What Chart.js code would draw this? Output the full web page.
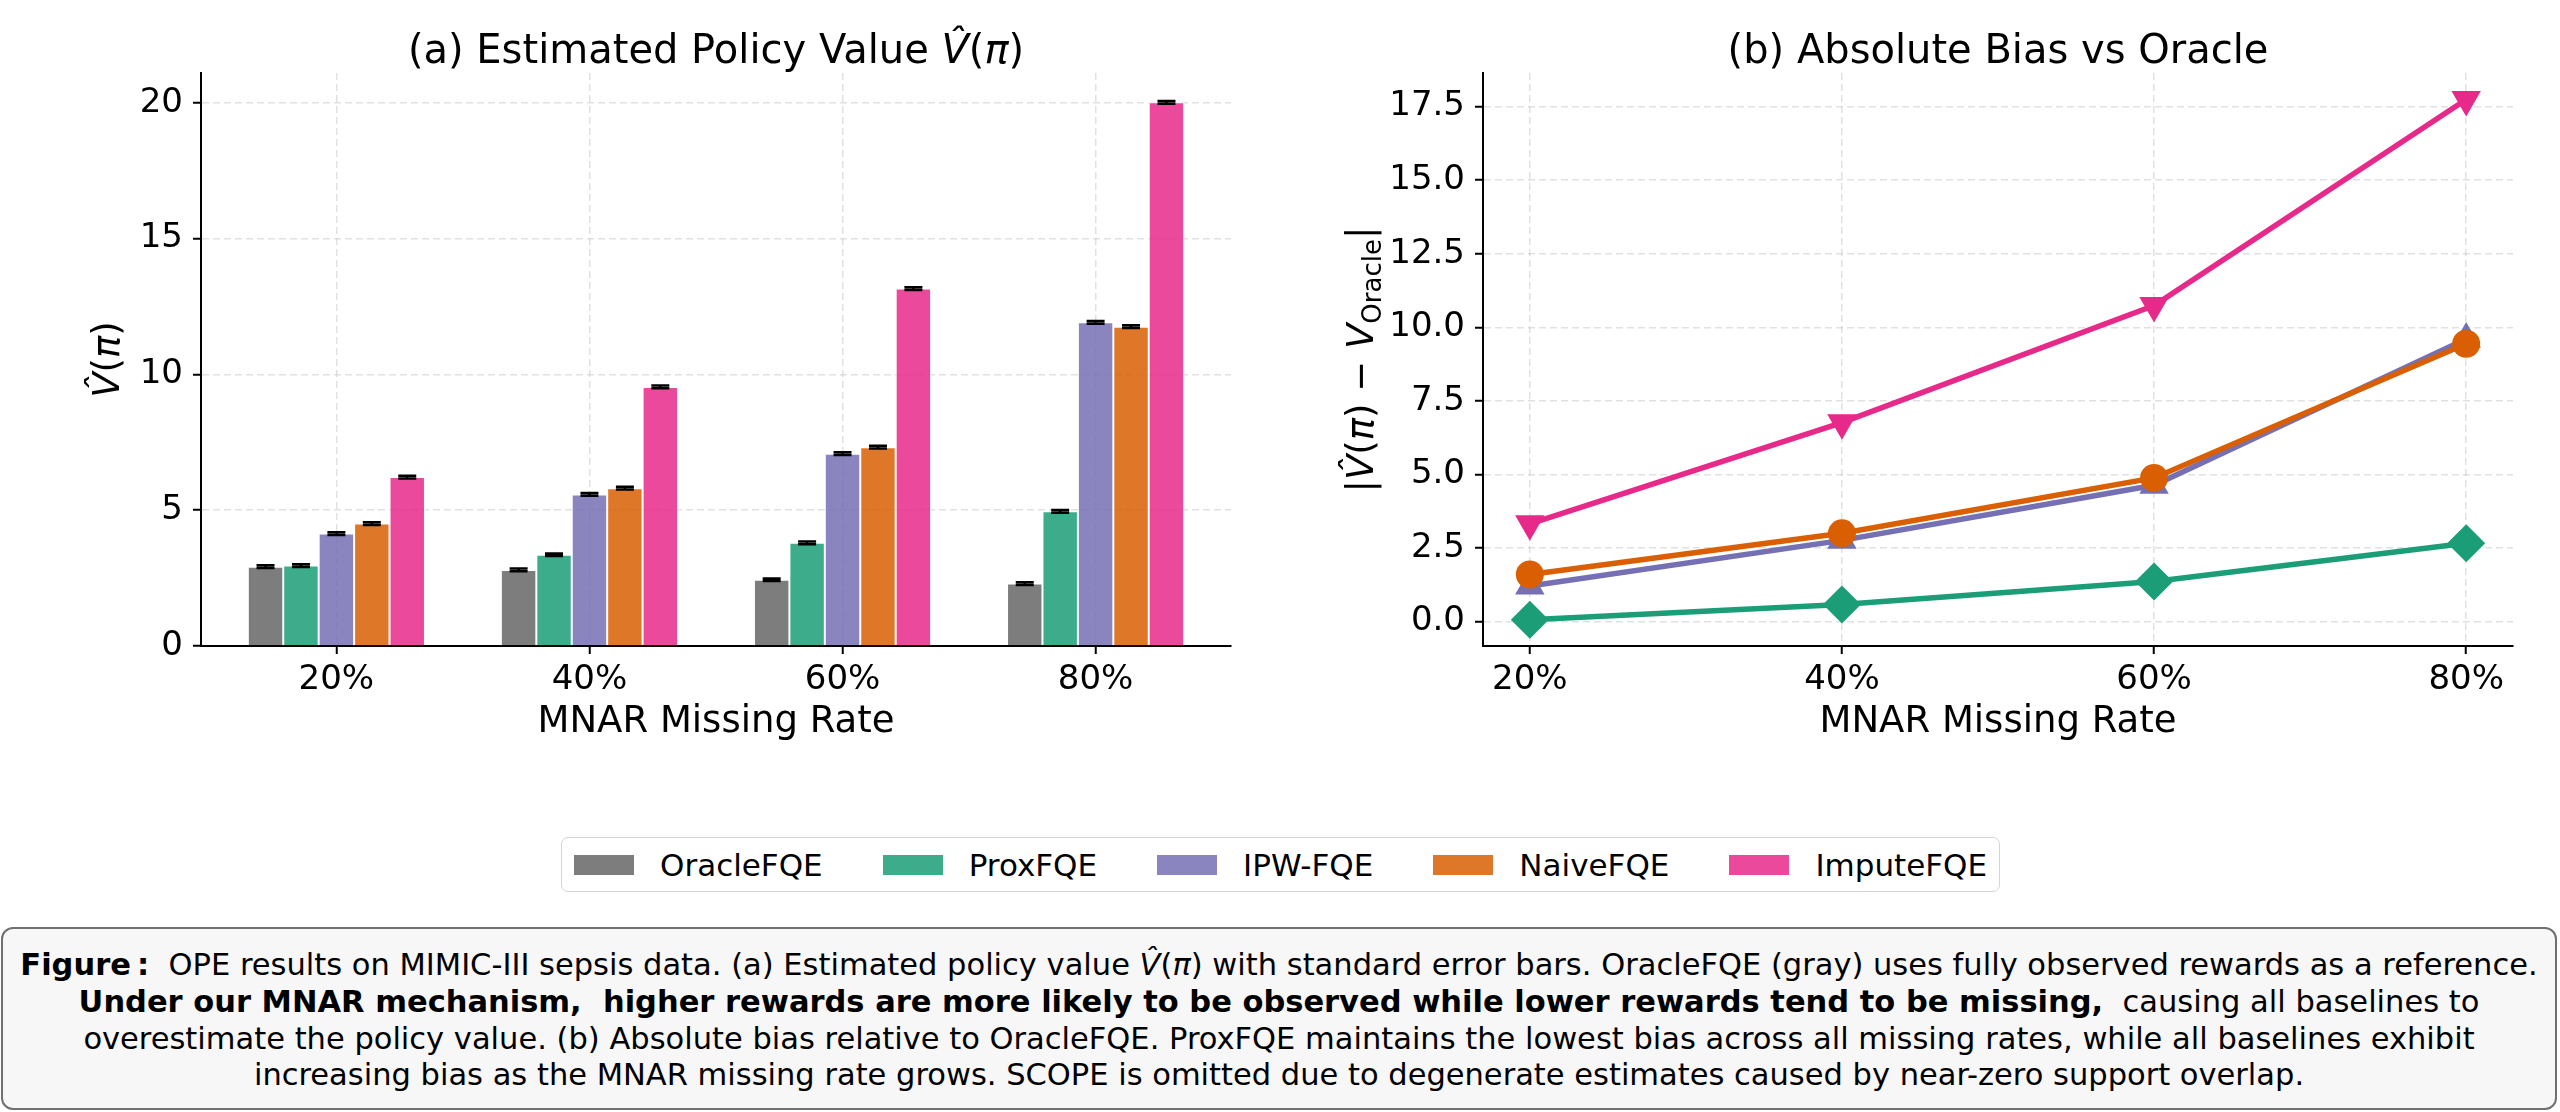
<!DOCTYPE html>
<html>
<head>
<meta charset="utf-8">
<script src="https://cdn.jsdelivr.net/npm/chart.js@4.4.1/dist/chart.umd.min.js"></script>
<style>
  html, body { margin: 0; padding: 0; background: #fff; }
  #page { position: relative; width: 2560px; height: 1112px; overflow: hidden; font-family: 'DejaVu Sans', sans-serif; color: #000; }
  #left, #right { position: absolute; top: 0; }
  #left { left: 0; }
  #right { left: 1280px; }
  #legend { position: absolute; left: 561px; top: 837px; height: 55px; box-sizing: border-box;
            border: 1.5px solid #d4d4d4; border-radius: 7px; display: flex; align-items: center;
            padding: 0 12px; font-size: 31px; background: #fff; }
  .item { display: flex; align-items: center; margin-right: 60px; }
  .item:last-child { margin-right: 0; }
  .sw { width: 60px; height: 20px; margin-right: 26px; }
  #caption { position: absolute; left: 1px; top: 927px; width: 2556px; height: 183px; box-sizing: border-box;
             border: 2px solid #707070; border-radius: 12px; background: #f7f7f7; text-align: center;
             font-size: 30.5px; line-height: 36.8px; padding-top: 18px; white-space: nowrap; }
</style>
</head>
<body>
<div id="page">
  <canvas id="left" width="1280" height="800"></canvas>
  <canvas id="right" width="1280" height="800"></canvas>
  <div id="legend"></div>
  <div id="caption">
    <b>Figure&#8201;:</b>&nbsp; OPE results on MIMIC-III sepsis data. (a) Estimated policy value <i>V&#770;</i>(<i>&pi;</i>) with standard error bars. OracleFQE (gray) uses fully observed rewards as a reference.<br>
    <b>Under our MNAR mechanism, &nbsp;higher rewards are more likely to be observed while lower rewards tend to be missing,</b>&nbsp; causing all baselines to<br>
    overestimate the policy value. (b) Absolute bias relative to OracleFQE. ProxFQE maintains the lowest bias across all missing rates, while all baselines exhibit<br>
    increasing bias as the MNAR missing rate grows. SCOPE is omitted due to degenerate estimates caused by near-zero support overlap.
  </div>
</div>
<script>
// data
var categories = ['20%', '40%', '60%', '80%'];
var methods = ['OracleFQE', 'ProxFQE', 'IPW-FQE', 'NaiveFQE', 'ImputeFQE'];
var methodColors = ['#666666', '#1b9e77', '#7570b3', '#d95f02', '#e7298a'];

// (a) estimated policy value
var oracleValue = [2.92, 2.80, 2.44, 2.30];
var proxValue = [2.96, 3.36, 3.80, 4.96];
var ipwValue = [4.14, 5.58, 7.08, 11.92];
var naiveValue = [4.51, 5.81, 7.32, 11.76];
var imputeValue = [6.22, 9.54, 13.16, 20.02];

// standard errors (tiny)
var oracleErr = [0.05, 0.05, 0.05, 0.05];
var proxErr = [0.05, 0.05, 0.05, 0.05];
var ipwErr = [0.05, 0.05, 0.05, 0.05];
var naiveErr = [0.05, 0.05, 0.05, 0.05];
var imputeErr = [0.05, 0.05, 0.05, 0.05];

// (b) absolute bias vs oracle
var proxBias = [0.06, 0.58, 1.36, 2.66];
var ipwBias = [1.21, 2.76, 4.63, 9.60];
var naiveBias = [1.60, 3.00, 4.88, 9.44];
var imputeBias = [3.32, 6.76, 10.74, 17.74];

var yTicksA = [0, 5, 10, 15, 20];
var yTicksB = [0, 2.5, 5, 7.5, 10, 12.5, 15, 17.5];

Chart.defaults.font.family = "'DejaVu Sans', sans-serif";
Chart.defaults.color = '#000';

function fade(hex, a) {
  var n = parseInt(hex.slice(1), 16);
  return 'rgba(' + (n >> 16) + ',' + ((n >> 8) & 255) + ',' + (n & 255) + ',' + a + ')';
}

// legend (html, shared by both panels)
var legendBox = document.getElementById('legend');
methods.forEach(function (m, i) {
  var it = document.createElement('div');
  it.className = 'item';
  it.innerHTML = '<div class="sw" style="background:' + fade(methodColors[i], 0.85) + '"></div><span>' + m + '</span>';
  legendBox.appendChild(it);
});

var TN = "40px 'DejaVu Sans'";
var TI = "italic 40px 'DejaVu Sans'";
var N = "37px 'DejaVu Sans'";
var I = "italic 37px 'DejaVu Sans'";

function drawRich(ctx, segs, x, y, rot) {
  ctx.save();
  ctx.translate(x, y);
  if (rot) ctx.rotate(rot);
  ctx.fillStyle = '#000';
  ctx.textBaseline = 'alphabetic';
  ctx.textAlign = 'left';
  var w = 0;
  segs.forEach(function (s) { ctx.font = s.font; w += ctx.measureText(s.t).width; });
  var cx = -w / 2;
  segs.forEach(function (s) {
    ctx.font = s.font;
    ctx.fillText(s.t, cx, s.dy || 0);
    cx += ctx.measureText(s.t).width;
  });
  ctx.restore();
}

var mathLabels = {
  id: 'mathLabels',
  afterDraw: function (chart, args, opts) {
    var a = chart.chartArea, ctx = chart.ctx;
    var cx = (a.left + a.right) / 2;
    drawRich(ctx, opts.title, cx, a.top - 10);
    drawRich(ctx, opts.xlabel, cx, a.bottom + 86);
    drawRich(ctx, opts.ylabel, a.left - opts.yOffset, (a.top + a.bottom) / 2, -Math.PI / 2);
  }
};

var errorBars = {
  id: 'errorBars',
  afterDatasetsDraw: function (chart) {
    var ctx = chart.ctx, ys = chart.scales.y;
    ctx.save();
    ctx.strokeStyle = '#000';
    ctx.lineWidth = 2.5;
    chart.data.datasets.forEach(function (ds, i) {
      if (!ds.err) return;
      chart.getDatasetMeta(i).data.forEach(function (bar, j) {
        var v = ds.data[j].y, e = ds.err[j];
        var top = ys.getPixelForValue(v + e), bot = ys.getPixelForValue(v - e);
        ctx.beginPath();
        ctx.moveTo(bar.x, top); ctx.lineTo(bar.x, bot);
        ctx.moveTo(bar.x - 9, top); ctx.lineTo(bar.x + 9, top);
        ctx.moveTo(bar.x - 9, bot); ctx.lineTo(bar.x + 9, bot);
        ctx.stroke();
      });
    });
    ctx.restore();
  }
};

var gridOpts = {
  color: 'rgba(200,200,200,0.55)',
  lineWidth: 1.5,
  offset: false,
  tickColor: '#000',
  tickWidth: 2,
  tickLength: 8,
  tickBorderDash: []
};
var borderOpts = { color: '#000', width: 2, dash: [7, 4] };
var tickFont = { size: 34 };

function catTicks(axis) {
  axis.ticks = categories.map(function (c, i) { return { value: i }; });
}

// (a) bars
var barSeries = [oracleValue, proxValue, ipwValue, naiveValue, imputeValue];
var errSeries = [oracleErr, proxErr, ipwErr, naiveErr, imputeErr];

new Chart(document.getElementById('left'), {
  type: 'bar',
  data: {
    datasets: methods.map(function (m, i) {
      return {
        label: m,
        data: barSeries[i].map(function (v, j) { return { x: j, y: v }; }),
        err: errSeries[i],
        backgroundColor: fade(methodColors[i], 0.85),
        borderColor: '#ffffff',
        borderWidth: 1,
        categoryPercentage: 0.7,
        barPercentage: 1.0
      };
    })
  },
  options: {
    responsive: false,
    animation: false,
    events: [],
    layout: { padding: { top: 73, right: 49, left: 0, bottom: 0 } },
    plugins: {
      legend: { display: false },
      tooltip: { enabled: false },
      mathLabels: {
        title: [{ t: '(a) Estimated Policy Value ', font: TN }, { t: 'V\u0302', font: TI },
                { t: '(', font: TN }, { t: '\u03c0', font: TI }, { t: ')', font: TN }],
        xlabel: [{ t: 'MNAR Missing Rate', font: N }],
        ylabel: [{ t: 'V\u0302', font: I }, { t: '(', font: N }, { t: '\u03c0', font: I }, { t: ')', font: N }],
        yOffset: 82
      }
    },
    scales: {
      x: {
        type: 'linear', min: -0.535, max: 3.535, offset: false,
        afterBuildTicks: catTicks,
        afterFit: function (s) { s.height = 154; },
        ticks: { callback: function (v) { return categories[v]; }, font: tickFont, color: '#000', padding: 6, maxRotation: 0, autoSkip: false },
        grid: gridOpts, border: borderOpts
      },
      y: {
        type: 'linear', min: 0, max: 21.1,
        afterBuildTicks: function (axis) { axis.ticks = yTicksA.map(function (v) { return { value: v }; }); },
        afterFit: function (s) { s.width = 201; },
        ticks: { font: tickFont, color: '#000', padding: 10 },
        grid: gridOpts, border: borderOpts
      }
    }
  },
  plugins: [errorBars, mathLabels]
});

// (b) lines
function pts(arr) { return arr.map(function (v, j) { return { x: j, y: v }; }); }

new Chart(document.getElementById('right'), {
  type: 'line',
  data: {
    datasets: [
      { label: 'ProxFQE', data: pts(proxBias), borderColor: methodColors[1], backgroundColor: methodColors[1],
        borderWidth: 5.5, pointStyle: 'rectRot', pointRadius: 19, pointBorderWidth: 0, order: 3 },
      { label: 'IPW-FQE', data: pts(ipwBias), borderColor: methodColors[2], backgroundColor: methodColors[2],
        borderWidth: 5.5, pointStyle: 'triangle', pointRadius: 17, pointBorderWidth: 0, order: 2 },
      { label: 'NaiveFQE', data: pts(naiveBias), borderColor: methodColors[3], backgroundColor: methodColors[3],
        borderWidth: 5.5, pointStyle: 'circle', pointRadius: 14, pointBorderWidth: 0, order: 1 },
      { label: 'ImputeFQE', data: pts(imputeBias), borderColor: methodColors[4], backgroundColor: methodColors[4],
        borderWidth: 5.5, pointStyle: 'triangle', pointRotation: 180, pointRadius: 17, pointBorderWidth: 0, order: 0 }
    ]
  },
  options: {
    responsive: false,
    animation: false,
    events: [],
    layout: { padding: { top: 73, right: 47, left: 0, bottom: 0 } },
    plugins: {
      legend: { display: false },
      tooltip: { enabled: false },
      mathLabels: {
        title: [{ t: '(b) Absolute Bias vs Oracle', font: TN }],
        xlabel: [{ t: 'MNAR Missing Rate', font: N }],
        ylabel: [{ t: '|', font: N }, { t: 'V\u0302', font: I }, { t: '(', font: N }, { t: '\u03c0', font: I },
                 { t: ') \u2212 ', font: N }, { t: 'V', font: I },
                 { t: 'Oracle', font: "26px 'DejaVu Sans'", dy: 8 }, { t: '|', font: N }],
        yOffset: 110
      }
    },
    scales: {
      x: {
        type: 'linear', min: -0.15, max: 3.15, offset: false,
        afterBuildTicks: catTicks,
        afterFit: function (s) { s.height = 154; },
        ticks: { callback: function (v) { return categories[v]; }, font: tickFont, color: '#000', padding: 6, maxRotation: 0, autoSkip: false },
        grid: gridOpts, border: borderOpts
      },
      y: {
        type: 'linear', min: -0.83, max: 18.64,
        afterBuildTicks: function (axis) { axis.ticks = yTicksB.map(function (v) { return { value: v }; }); },
        afterFit: function (s) { s.width = 203; },
        ticks: { callback: function (v) { return v.toFixed(1); }, font: tickFont, color: '#000', padding: 10 },
        grid: gridOpts, border: borderOpts
      }
    }
  },
  plugins: [mathLabels]
});
</script>
</body>
</html>
